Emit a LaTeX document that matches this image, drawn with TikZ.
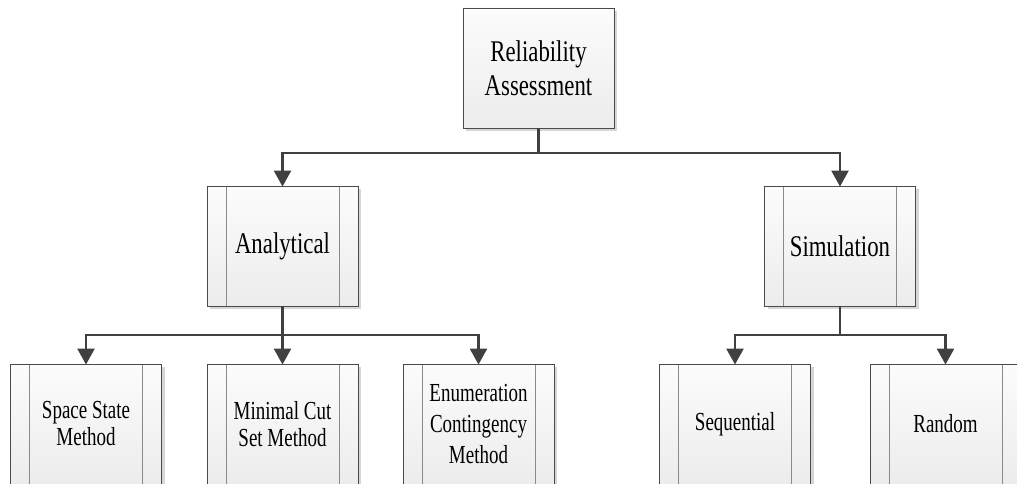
\documentclass[tikz,border=0pt]{standalone}
\usepackage{fontspec}
\setmainfont{Liberation Serif}
\newfontfamily\boxfont[FakeStretch=0.76]{Liberation Serif}
\newfontfamily\smallboxfont[FakeStretch=0.73]{Liberation Serif}
\usetikzlibrary{arrows.meta,shadows}

\definecolor{edge}{HTML}{4A4A4A}
\definecolor{conn}{HTML}{404040}
\definecolor{bar}{HTML}{8A8A8A}
\definecolor{shade}{HTML}{D6D6D6}
\definecolor{boxtop}{HTML}{FCFCFC}
\definecolor{boxbottom}{HTML}{ECECEC}

\tikzset{
  boxbase/.style={draw=edge, line width=0.9pt, rectangle,
    minimum width=151pt, minimum height=120pt, inner sep=0pt,
    top color=boxtop, bottom color=boxbottom,
    drop shadow={shadow xshift=3pt, shadow yshift=-3pt, fill=shade, opacity=1},
    align=center},
  process/.style={boxbase,
    path picture={
      \draw[bar, line width=0.9pt]
        ([xshift=19pt]path picture bounding box.north west) --
        ([xshift=19pt]path picture bounding box.south west);
      \draw[bar, line width=0.9pt]
        ([xshift=-19pt]path picture bounding box.north east) --
        ([xshift=-19pt]path picture bounding box.south east);
    }},
  upper/.style={font=\fontsize{30}{34}\boxfont},
  lower/.style={font=\fontsize{26}{27}\smallboxfont},
  link/.style={draw=conn, line width=2.6pt},
  arrowlink/.style={link, -{Triangle[width=17pt,length=16pt]}, shorten >=-1pt},
}

\begin{document}
\begin{tikzpicture}[x=1pt,y=-1pt]
  \useasboundingbox (0,0) rectangle (1017,484);
  \clip (0,0) rectangle (1017,484);

  % root
  \node[boxbase, upper] (root) at (538.5,68) {Reliability\\Assessment};

  % second level
  \node[process, upper] (ana) at (282.5,246) {Analytical};
  \node[process, upper] (sim) at (840,246) {Simulation};

  % third level
  \node[process, lower] (sss) at (86,424) {Space State\\Method};
  \node[process, lower] (mcs) at (282.5,424) {Minimal Cut\\Set Method};
  \node[process, lower, font=\fontsize{26}{31}\smallboxfont] (ecm) at (478.5,424) {Enumeration\\Contingency\\Method};
  \node[process, lower] (seq) at (735,424) {Sequential};
  \node[process, lower] (rnd) at (945.5,424) {Random};

  % branch points
  \coordinate (j0) at (538.5,153);
  \coordinate (j1) at (282.5,335);
  \coordinate (j2) at (840,335);

  % root -> second level
  \draw[link] (root.south) -- (j0);
  \draw[arrowlink] (j0) -| (ana.north);
  \draw[arrowlink] (j0) -| (sim.north);

  % analytical -> methods
  \draw[link] (ana.south) -- (j1);
  \draw[arrowlink] (j1) -| (sss.north);
  \draw[arrowlink] (j1) -- (mcs.north);
  \draw[arrowlink] (j1) -| (ecm.north);

  % simulation -> methods
  \draw[link] (sim.south) -- (j2);
  \draw[arrowlink] (j2) -| (seq.north);
  \draw[arrowlink] (j2) -| (rnd.north);
\end{tikzpicture}
\end{document}
